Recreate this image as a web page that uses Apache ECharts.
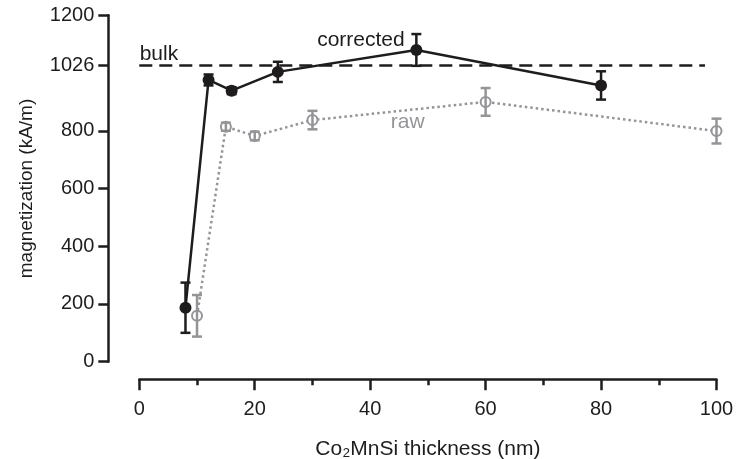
<!DOCTYPE html>
<html>
<head>
<meta charset="utf-8">
<script src="https://cdn.jsdelivr.net/npm/echarts@6/dist/echarts.min.js"></script>
<style>
  html, body { margin: 0; padding: 0; background: #fff; }
  #chart { width: 740px; height: 459px; }
</style>
</head>
<body>
<div id="chart"></div>
<script>
// thickness (nm) and magnetization (kA/m)
const correctedX = [8, 12, 16, 24, 48, 80]
const correctedY = [187, 976, 939, 1004, 1080, 957]
const correctedErr = [87, 19, 12, 35, 55, 49]

const rawX = [10, 15, 20, 30, 60, 100]
const rawY = [159, 814, 782, 837, 900, 799]
const rawErr = [72, 14, 15, 32, 48, 43]

const bulkValue = 1026
const bulkRange = [0, 98]

const yTicks = [0, 200, 400, 600, 800, 1026, 1200]

// annotation texts placed in data space
const notes = [
  { text: 'bulk', x: 3.4, y: 1064, color: '#1f1c1d' },
  { text: 'corrected', x: 38.4, y: 1114, color: '#1f1c1d' },
  { text: 'raw', x: 46.5, y: 830, color: '#939598' }
]

const BLACK = '#1f1c1d'
const GRAY = '#939598'
const FONT = '"Liberation Sans", Arial, sans-serif'

const zip = (xs, ys) => xs.map((x, i) => [x, ys[i]])
const errData = (xs, ys, es) => xs.map((x, i) => [x, ys[i] - es[i], ys[i] + es[i]])

function errorBars (color) {
  return function (params, api) {
    const lo = api.coord([api.value(0), api.value(1)])
    const hi = api.coord([api.value(0), api.value(2)])
    const w = 5
    const style = { stroke: color, lineWidth: 2.5, fill: null }
    return {
      type: 'group',
      children: [
        { type: 'line', shape: { x1: lo[0], y1: lo[1], x2: hi[0], y2: hi[1] }, style },
        { type: 'line', shape: { x1: lo[0] - w, y1: lo[1], x2: lo[0] + w, y2: lo[1] }, style },
        { type: 'line', shape: { x1: hi[0] - w, y1: hi[1], x2: hi[0] + w, y2: hi[1] }, style }
      ]
    }
  }
}

const chart = echarts.init(document.getElementById('chart'))
chart.setOption({
  animation: false,
  backgroundColor: '#fff',
  textStyle: { fontFamily: FONT },
  grid: { left: 139.3, right: 23.5, top: 15.3, bottom: 97.3, outerBoundsMode: 'none', containLabel: false },
  xAxis: {
    type: 'value',
    min: 0,
    max: 100,
    interval: 20,
    offset: 17.6,
    name: 'Co\u2082MnSi thickness (nm)',
    nameLocation: 'middle',
    nameGap: 59,
    nameTextStyle: { color: BLACK, fontSize: 21, fontFamily: FONT },
    axisLine: { onZero: false, lineStyle: { color: BLACK, width: 2.5 } },
    axisTick: { length: 11, lineStyle: { color: BLACK, width: 2.5 } },
    minorTick: { show: true, splitNumber: 2, length: 6, lineStyle: { color: BLACK, width: 2.5 } },
    axisLabel: { color: BLACK, fontSize: 20, margin: 20, fontFamily: FONT },
    splitLine: { show: false }
  },
  yAxis: {
    type: 'value',
    min: 0,
    max: 1200,
    offset: 31,
    name: 'magnetization (kA/m)',
    nameLocation: 'middle',
    nameGap: 72,
    nameTextStyle: { color: BLACK, fontSize: 19, fontFamily: FONT },
    axisLine: { show: true, onZero: false, lineStyle: { color: BLACK, width: 2.5 } },
    axisTick: { show: true, length: 10, customValues: yTicks, lineStyle: { color: BLACK, width: 2.5 } },
    axisLabel: {
      color: BLACK, fontSize: 20, margin: 14, customValues: yTicks, fontFamily: FONT,
      formatter: v => String(v)
    },
    splitLine: { show: false }
  },
  series: [
    {
      name: 'bulk',
      type: 'line',
      data: bulkRange.map(x => [x, bulkValue]),
      symbol: 'none',
      lineStyle: { color: BLACK, width: 2.5, type: [13, 7] },
      z: 1
    },
    {
      name: 'raw',
      type: 'line',
      data: zip(rawX, rawY),
      symbol: 'emptyCircle',
      symbolSize: 10,
      itemStyle: { color: GRAY, borderColor: GRAY, borderWidth: 1.5 },
      lineStyle: { color: GRAY, width: 2.5, type: [2.5, 3] },
      z: 2
    },
    {
      name: 'raw err',
      type: 'custom',
      data: errData(rawX, rawY, rawErr),
      renderItem: errorBars(GRAY),
      z: 3
    },
    {
      name: 'corrected',
      type: 'line',
      data: zip(correctedX, correctedY),
      symbol: 'circle',
      symbolSize: 12,
      itemStyle: { color: BLACK },
      lineStyle: { color: BLACK, width: 2.5 },
      z: 4
    },
    {
      name: 'corrected err',
      type: 'custom',
      data: errData(correctedX, correctedY, correctedErr),
      renderItem: errorBars(BLACK),
      z: 5
    },
    {
      name: 'notes',
      type: 'scatter',
      data: notes.map(n => ({
        value: [n.x, n.y],
        label: {
          show: true, position: 'inside', formatter: n.text, color: n.color,
          fontSize: 21, fontFamily: FONT, opacity: 1, textBorderWidth: 0
        }
      })),
      symbolSize: 1,
      itemStyle: { color: '#fff', opacity: 1 },
      silent: true,
      z: 6
    }
  ]
})
</script>
</body>
</html>
